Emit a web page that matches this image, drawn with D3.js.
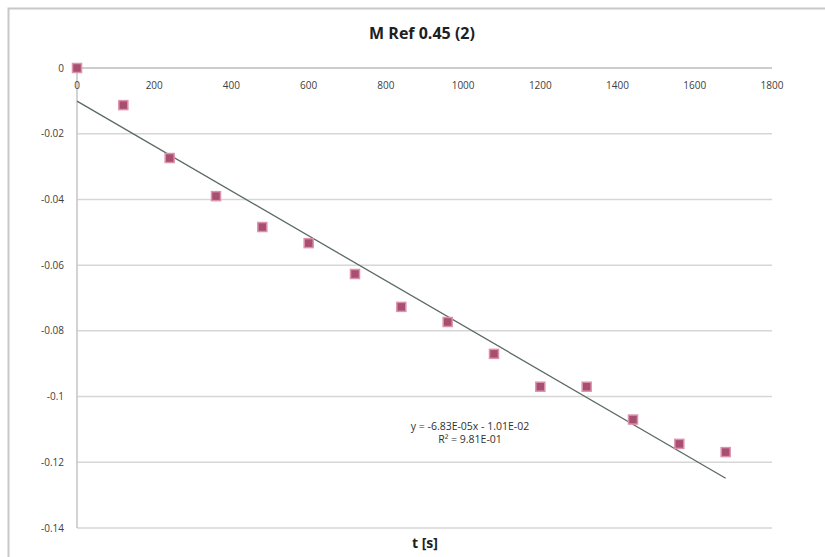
<!DOCTYPE html>
<html>
<head>
    <meta charset="utf-8">
    <title>M Ref 0.45 (2)</title>
    <script src="https://d3js.org/d3.v7.min.js"></script>
    <style>
        html, body { margin: 0; background: white; overflow: hidden; }
        svg { display: block; }
    </style>
</head>
<body>
    <svg id="chart" width="825" height="557"></svg>

    <script>
        // data
        var times = [0, 120, 240, 360, 480, 600, 720, 840, 960, 1080, 1200, 1320, 1440, 1560, 1680]
        var values = [0, -0.0113, -0.0274, -0.0390, -0.0484, -0.0533, -0.0627, -0.0727,
                      -0.0773, -0.0870, -0.0970, -0.0970, -0.1070, -0.1144, -0.1169]
        var xTicks = [0, 200, 400, 600, 800, 1000, 1200, 1400, 1600, 1800]
        var yTicks = [0, -0.02, -0.04, -0.06, -0.08, -0.1, -0.12, -0.14]
        var slope = -6.83e-05, intercept = -1.01e-02
        var eqLines = ["y = -6.83E-05x - 1.01E-02", "R\u00b2 = 9.81E-01"]

        svg = d3.select("#chart")

        // outer chart border: only left and top edges are inside the picture
        svg.append("path")
            .attr("d", "M8.5,557 L8.5,8.5 L825,8.5")
            .attr("fill", "none")
            .attr("stroke", "#c8c8c8")
            .attr("stroke-width", 2)

        x = d3.scaleLinear([0, 1800], [77, 772])
        y = d3.scaleLinear([-0.14, 0], [528, 68])

        // horizontal gridlines
        svg.append("g")
            .selectAll("line")
            .data(yTicks).enter()
            .append("line")
            .attr("x1", x(0)).attr("x2", x(1800))
            .attr("y1", d => y(d)).attr("y2", d => y(d))
            .attr("stroke", d => d == 0 ? "#bdbdbd" : "#d6d6d6")
            .attr("stroke-width", 1.5)

        // vertical axis line
        svg.append("line")
            .attr("x1", x(0)).attr("x2", x(0))
            .attr("y1", y(0)).attr("y2", y(-0.14))
            .attr("stroke", "#c4c4c4")
            .attr("stroke-width", 1.5)

        // y labels
        svg.append("g")
            .selectAll("text")
            .data(yTicks).enter()
            .append("text")
            .attr("x", 64)
            .attr("y", d => y(d) + 3.5)
            .attr("text-anchor", "end")
            .style("font-family", "Open Sans, sans-serif")
            .style("font-size", "10px")
            .attr("fill", "#404040")
            .text(d => d == 0 ? "0" : String(+d.toFixed(2)))

        // x labels (axis sits at the top, value 0)
        svg.append("g")
            .selectAll("text")
            .data(xTicks).enter()
            .append("text")
            .attr("x", d => x(d))
            .attr("y", 89)
            .attr("text-anchor", "middle")
            .style("font-family", "Open Sans, sans-serif")
            .style("font-size", "10px")
            .attr("fill", "#404040")
            .text(d => d)

        // linear trendline
        svg.append("line")
            .attr("x1", x(0)).attr("y1", y(intercept))
            .attr("x2", x(d3.max(times))).attr("y2", y(slope * d3.max(times) + intercept))
            .attr("stroke", "#5b6a62")
            .attr("stroke-width", 1.3)

        // markers
        var pts = times.map((t, i) => ({t: t, v: values[i]}))
        svg.append("g")
            .selectAll("rect")
            .data(pts).enter()
            .append("rect")
            .attr("x", d => x(d.t) - 4.5)
            .attr("y", d => y(d.v) - 4.5)
            .attr("width", 9).attr("height", 9)
            .attr("fill", "#a84e70")
            .attr("stroke", "#dc92aa")
            .attr("stroke-width", 1.5)

        // trendline equation
        svg.append("g")
            .selectAll("text")
            .data(eqLines).enter()
            .append("text")
            .attr("x", 470)
            .attr("y", (d, i) => 430 + i * 13)
            .attr("text-anchor", "middle")
            .style("font-family", "Open Sans, sans-serif")
            .style("font-size", "10.5px")
            .attr("fill", "#303030")
            .text(d => d)

        // title
        svg.append("text")
            .attr("x", 422).attr("y", 39)
            .attr("text-anchor", "middle")
            .style("font-family", "Open Sans, sans-serif")
            .style("font-weight", "bold")
            .style("font-size", "16px")
            .attr("fill", "#202020")
            .text("M Ref 0.45 (2)")

        // x axis title
        svg.append("text")
            .attr("x", 425).attr("y", 548)
            .attr("text-anchor", "middle")
            .style("font-family", "Open Sans, sans-serif")
            .style("font-weight", "bold")
            .style("font-size", "14px")
            .attr("fill", "#202020")
            .text("t [s]")
    </script>
</body>
</html>
